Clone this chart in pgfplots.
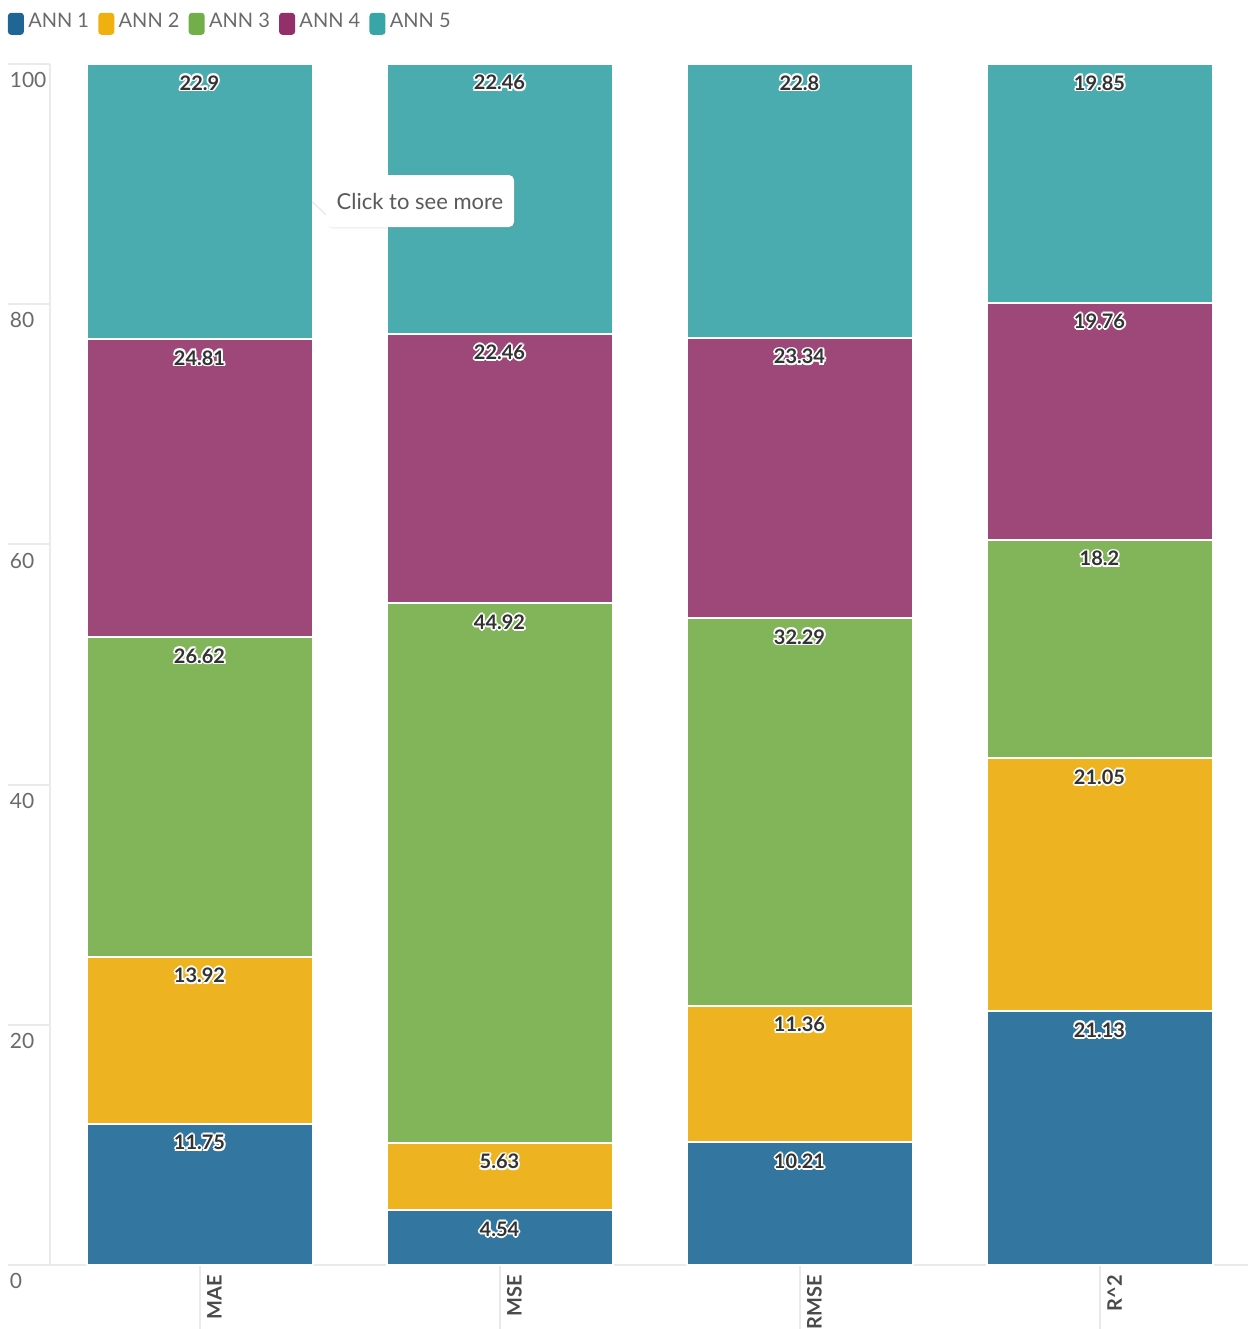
\documentclass[border=0pt]{standalone}
\usepackage{pgfplots}
\pgfplotsset{compat=1.18}
\usepackage{pgfplotstable}
\usepackage{fontspec}
\setmainfont{Lato}
\usetikzlibrary{shadows}
\definecolor{annA}{HTML}{33769F}
\definecolor{annB}{HTML}{EDB321}
\definecolor{annC}{HTML}{82B55A}
\definecolor{annD}{HTML}{9D4878}
\definecolor{annE}{HTML}{4AACAE}
\definecolor{legA}{HTML}{1F6695}
\definecolor{legB}{HTML}{F0B00F}
\definecolor{legC}{HTML}{72AE4A}
\definecolor{legD}{HTML}{93306A}
\definecolor{legE}{HTML}{38A6A6}
\definecolor{lblgray}{HTML}{333333}
\definecolor{tickgray}{HTML}{6A6A6A}
\definecolor{linegray}{HTML}{EAEAEA}
\newcommand\haloshift[2]{\rlap{\raisebox{#2}{\kern#1\copy0}}}
\newcommand\halo[1]{\setbox0=\hbox{#1}{\color{white}\haloshift{0.9pt}{0pt}\haloshift{-0.9pt}{0pt}\haloshift{0pt}{0.9pt}\haloshift{0pt}{-0.9pt}\haloshift{0.65pt}{0.65pt}\haloshift{-0.65pt}{0.65pt}\haloshift{0.65pt}{-0.65pt}\haloshift{-0.65pt}{-0.65pt}}\box0}
\newcommand\swatch[1]{\tikz[baseline=-2pt]\fill[#1, rounded corners=1.6pt] (0pt,-5.5pt) rectangle (8pt,5.5pt);\kern2.2pt}
\pgfplotstableread{
x a b c d e
0 11.75 13.92 26.62 24.81 22.9
1 4.54 5.63 44.92 22.46 22.46
2 10.21 11.36 32.29 23.34 22.8
3 21.13 21.05 18.2 19.76 19.85
}\datatable
\begin{document}
\begin{tikzpicture}
\useasboundingbox (0,0) rectangle (624pt,-664.5pt);
\begin{axis}[
  at={(24.75pt,-632.5pt)}, anchor=south west,
  scale only axis, width=600pt, height=600.5pt,
  xmin=-0.5, xmax=3.5, ymin=0, ymax=100,
  clip=false,
  ybar stacked, bar width=113pt, bar shift=0pt,
  axis lines=left, axis line style={-, draw=linegray, line width=1pt},
  xtick={0,1,2,3},
  xticklabels={MAE,MSE,RMSE,R\textasciicircum 2},
  ytick={0,20,40,60,80,100},
  /pgf/number format/assume math mode=true,
  tick align=outside,
  ytick style={draw=linegray, line width=1pt, /pgfplots/major tick length=20.5pt},
  xtick style={draw=linegray, line width=1pt, /pgfplots/major tick length=32pt},
  yticklabel style={font=\fontsize{10.5}{12}\selectfont, text=tickgray, anchor=north west, inner sep=0pt, xshift=-15.75pt, yshift=-4pt},
  xticklabel style={font=\bfseries\fontsize{10}{12}\selectfont, text=tickgray!70!black, rotate=90, anchor=east, inner sep=0pt, xshift=-0.5pt, yshift=-7.5pt},
  visualization depends on={rawy \as \rawy},
  every node near coord/.append style={font=\bfseries\fontsize{10}{12}\selectfont, text=lblgray, anchor=north, inner sep=0pt, yshift={\rawy*3.0025pt-4.3pt}},
  nodes near coords={\halo{\pgfplotspointmeta}},
  point meta=explicit symbolic,
  legend columns=-1,
  legend style={at={(axis description cs:0,1)}, anchor=north west, xshift=-21pt, yshift=26.8pt,
    draw=none, fill=none, inner sep=0pt,
    font=\fontsize{10}{12}\selectfont, text=tickgray,
    nodes={inner xsep=0pt, inner ysep=1pt},
    /tikz/every even column/.append style={column sep=0pt},
    /tikz/every odd column/.append style={column sep=0pt}},
  legend cell align=left,
]
\addplot[fill=annA, draw=white, line width=1pt, forget plot] table[x=x, y=a, meta=a] {\datatable};
\addplot[fill=annB, draw=white, line width=1pt, forget plot] table[x=x, y=b, meta=b] {\datatable};
\addplot[fill=annC, draw=white, line width=1pt, forget plot] table[x=x, y=c, meta=c] {\datatable};
\addplot[fill=annD, draw=white, line width=1pt, forget plot] table[x=x, y=d, meta=d] {\datatable};
\addplot[fill=annE, draw=white, line width=1pt, forget plot] table[x=x, y=e, meta=e] {\datatable};
\addlegendimage{empty legend}
\addlegendentry{\swatch{legA}ANN 1\kern4.6pt\null}
\addlegendimage{empty legend}
\addlegendentry{\swatch{legB}ANN 2\kern4.6pt\null}
\addlegendimage{empty legend}
\addlegendentry{\swatch{legC}ANN 3\kern4.6pt\null}
\addlegendimage{empty legend}
\addlegendentry{\swatch{legD}ANN 4\kern4.6pt\null}
\addlegendimage{empty legend}
\addlegendentry{\swatch{legE}ANN 5}
\coordinate (tip) at (axis cs:0.378,88.59);
\coordinate (tta) at (axis cs:0.43,89.8);
\coordinate (ttb) at (axis cs:0.43,87.4);
\coordinate (ttc) at (axis cs:0.735,88.59);
\end{axis}
\fill[white, drop shadow={opacity=0.15, shadow xshift=-0.6pt, shadow yshift=-0.8pt}] (tip) -- (tta) -- (ttb) -- cycle;
\node[fill=white, rounded corners=2.5pt, minimum width=94pt, minimum height=26pt, text=tickgray!85!black, font=\fontsize{11}{13}\selectfont, drop shadow={opacity=0.12, shadow xshift=0.8pt, shadow yshift=-0.8pt}] at (ttc) {Click to see more};
\fill[white] (tip) -- (tta) -- (ttb) -- cycle;
\end{tikzpicture}
\end{document}
